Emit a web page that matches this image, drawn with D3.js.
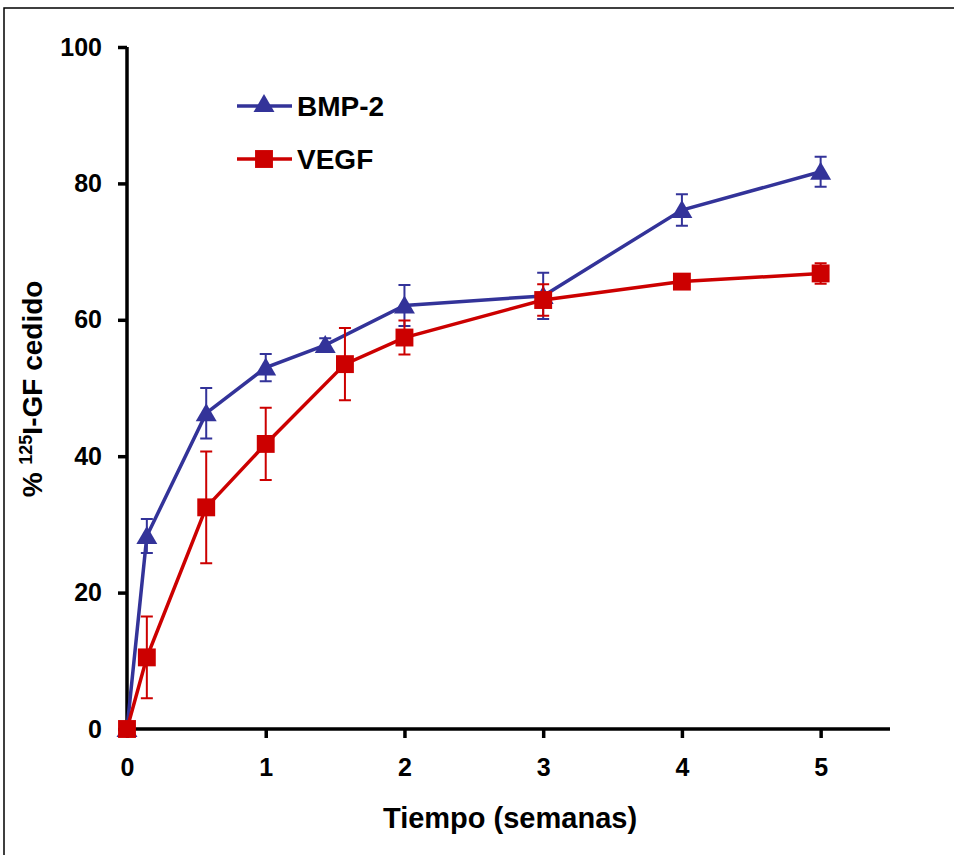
<!DOCTYPE html>
<html><head><meta charset="utf-8">
<script src="https://cdn.jsdelivr.net/npm/d3@7"></script>
<style>body{margin:0;background:#fff}svg{display:block}</style>
</head><body>
<svg id="c" width="954" height="855"></svg>
<script>
// Data (time in weeks)
const timesBMP = [0, 0.143, 0.571, 1, 1.429, 2, 3, 4, 5];
const valuesBMP = [0, 28.3, 46.3, 53.0, 56.3, 62.1, 63.5, 76.1, 81.7];
const errBMP = [0, 2.5, 3.7, 2.0, 1.0, 3.0, 3.4, 2.3, 2.2];
const timesVEGF = [0, 0.143, 0.571, 1, 1.571, 2, 3, 4, 5];
const valuesVEGF = [0, 10.5, 32.5, 41.8, 53.5, 57.4, 62.9, 65.6, 66.8];
const errVEGF = [0, 6.0, 8.2, 5.3, 5.3, 2.5, 2.3, 0.7, 1.5];
const xTicks = [0, 1, 2, 3, 4, 5];
const yTicks = [0, 20, 40, 60, 80, 100];
const seriesNames = ["BMP-2", "VEGF"];

const svg = d3.select("#c");
const font = "'Liberation Sans', Arial, sans-serif";
const x = d3.scaleLinear().domain([0, 5.5]).range([127, 890]);
const y = d3.scaleLinear().domain([0, 100]).range([729, 47]);

// outer frame
svg.append("rect").attr("x", 4).attr("y", 8).attr("width", 960).attr("height", 860)
  .attr("fill", "none").attr("stroke", "#000").attr("stroke-width", 1.5);

// axes
const gx = svg.append("g").attr("transform", "translate(0,729)")
  .call(d3.axisBottom(x).tickValues(xTicks).tickFormat(d3.format("d")).tickSize(9).tickSizeOuter(0).tickPadding(20));
const gy = svg.append("g").attr("transform", "translate(127,0)")
  .call(d3.axisLeft(y).tickValues(yTicks).tickFormat(d3.format("d")).tickSize(9).tickSizeOuter(0).tickPadding(16));
[gx, gy].forEach(g => {
  g.select(".domain").attr("stroke", "#000").attr("stroke-width", 3.5);
  g.selectAll(".tick line").attr("stroke", "#000").attr("stroke-width", 3.5);
  g.selectAll(".tick text").attr("fill", "#000").attr("font-family", font)
    .attr("font-weight", "bold").attr("font-size", 25);
});
gy.select(".domain").attr("d", `M0,${y(0)}V${y(100)}`);
gx.select(".domain").attr("d", `M${x(0)},0H${x(5.5)}`);

// axis titles
svg.append("text").attr("x", 510).attr("y", 828).attr("text-anchor", "middle")
  .attr("font-family", font).attr("font-weight", "bold").attr("font-size", 29)
  .text("Tiempo (semanas)");
const yl = svg.append("text").attr("text-anchor", "middle")
  .attr("transform", "translate(42,389) rotate(-90)")
  .attr("font-family", font).attr("font-weight", "bold").attr("font-size", 28);
yl.append("tspan").text("% ");
yl.append("tspan").attr("font-size", 18).attr("dy", -10).text("125");
yl.append("tspan").attr("dy", 10).text("I-GF cedido");

const series = [
  {name: seriesNames[0], t: timesBMP, v: valuesBMP, e: errBMP, color: "#333399", shape: d3.symbolTriangle},
  {name: seriesNames[1], t: timesVEGF, v: valuesVEGF, e: errVEGF, color: "#cc0000", shape: d3.symbolSquare}
];
const line = d3.line().x(d => x(d[0])).y(d => y(d[1]));

series.forEach(s => {
  const pts = s.t.map((t, i) => [t, s.v[i], s.e[i]]);
  const g = svg.append("g");
  pts.filter(p => p[2] > 0).forEach(p => {
    const cx = x(p[0]), y1 = y(p[1] + p[2]), y2 = y(p[1] - p[2]);
    g.append("path").attr("d", `M${cx},${y1}V${y2}M${cx-6},${y1}H${cx+6}M${cx-6},${y2}H${cx+6}`)
      .attr("stroke", s.color).attr("stroke-width", 2).attr("fill", "none");
  });
  g.append("path").datum(pts).attr("d", line).attr("fill", "none")
    .attr("stroke", s.color).attr("stroke-width", 3.5);
  g.selectAll(".m").data(pts).enter().append("path")
    .attr("transform", d => `translate(${x(d[0])},${y(d[1]) + (s.shape === d3.symbolTriangle ? 2 : 0)})`)
    .attr("d", d3.symbol().type(s.shape).size(s.shape === d3.symbolTriangle ? 190 : 320))
    .attr("fill", s.color);
});

// legend
series.forEach((s, i) => {
  const ly = 106 + i * 53;
  svg.append("line").attr("x1", 237).attr("x2", 292).attr("y1", ly).attr("y2", ly)
    .attr("stroke", s.color).attr("stroke-width", 3.5);
  svg.append("path").attr("transform", `translate(264,${ly})`)
    .attr("d", d3.symbol().type(s.shape).size(s.shape === d3.symbolTriangle ? 190 : 320))
    .attr("fill", s.color);
  svg.append("text").attr("x", 297).attr("y", ly).attr("dy", "0.36em")
    .attr("font-family", font).attr("font-weight", "bold").attr("font-size", 28)
    .text(s.name);
});
</script>
</body></html>
